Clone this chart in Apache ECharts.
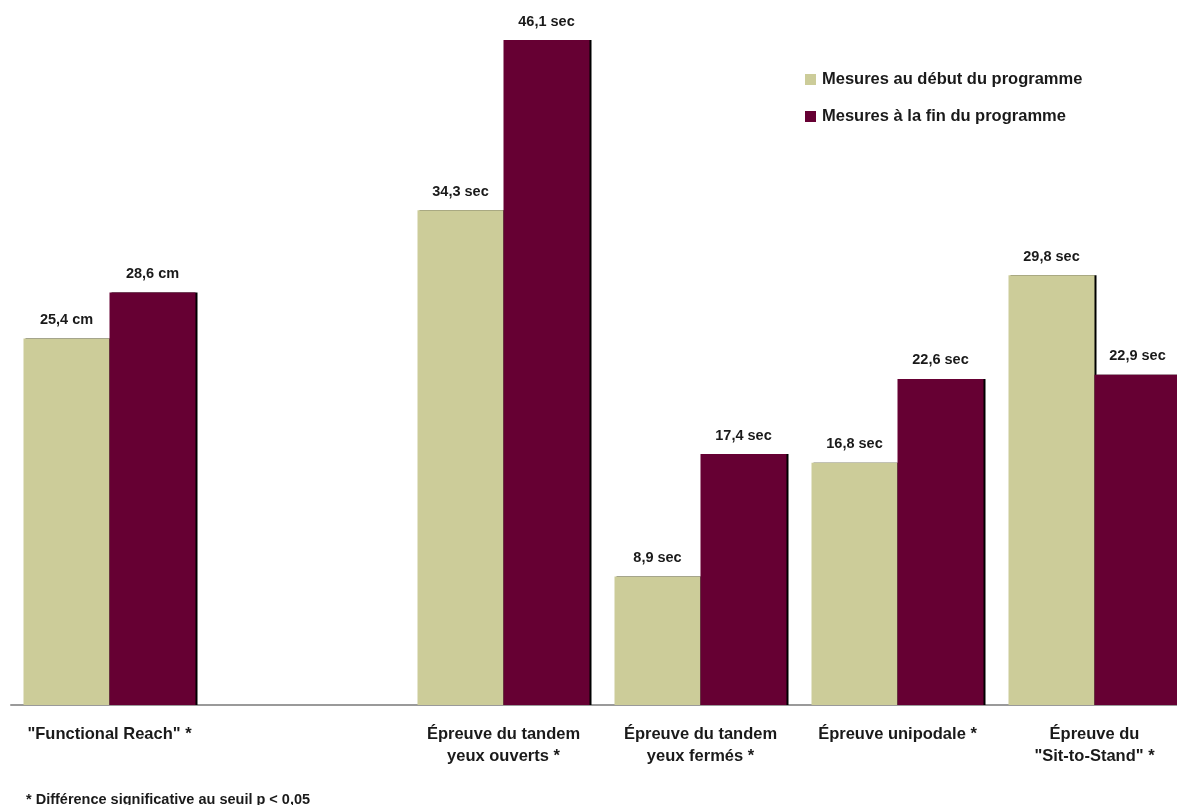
<!DOCTYPE html>
<html>
<head>
<meta charset="utf-8">
<script src="https://cdn.jsdelivr.net/npm/echarts@6/dist/echarts.min.js"></script>
<style>
html,body{margin:0;padding:0;background:#fff;overflow:hidden;}
#chart{width:1200px;height:805px;}
</style>
</head>
<body>
<div id="chart"></div>
<script>
const categories = ['"Functional Reach" *', '', 'Épreuve du tandem\nyeux ouverts *', 'Épreuve du tandem\nyeux fermés *', 'Épreuve unipodale *', 'Épreuve du\n"Sit-to-Stand" *'];
const units = ['cm', '', 'sec', 'sec', 'sec', 'sec'];
const debutValues = [25.4, '-', 34.3, 8.9, 16.8, 29.8];
const finValues = [28.6, '-', 46.1, 17.4, 22.6, 22.9];
const seriesNames = ['Mesures au début du programme', 'Mesures à la fin du programme'];
const footnote = '* Différence significative au seuil p < 0,05';

const FONT = '"Liberation Sans", Arial, sans-serif';
const labelFmt = p => String(p.value).replace('.', ',') + ' ' + units[p.dataIndex];

const chart = echarts.init(document.getElementById('chart'));
chart.setOption({
  backgroundColor: '#fff',
  animation: false,
  title: {
    text: footnote, left: 21, top: 787,
    textStyle: {fontFamily: FONT, fontSize: 14.5, fontWeight: 'bold', color: '#1a1a1a'}
  },
  legend: {
    orient: 'vertical', left: 800, top: 66, itemGap: 20,
    itemWidth: 11, itemHeight: 11, icon: 'rect',
    textStyle: {fontFamily: FONT, fontSize: 16.5, fontWeight: 'bold', color: '#1a1a1a', padding: [0, 0, 0, 1]},
    data: seriesNames
  },
  grid: {left: 11, top: 40, width: 1182, height: 665, containLabel: false},
  xAxis: {
    type: 'category', data: categories,
    axisLine: {lineStyle: {color: '#9a9a9a', width: 2}},
    axisTick: {show: false},
    axisLabel: {interval: 0, margin: 18, lineHeight: 22, fontFamily: FONT, fontSize: 16.5, fontWeight: 'bold', color: '#1a1a1a'}
  },
  yAxis: {type: 'value', min: 0, max: 'dataMax', show: false, splitLine: {show: false}},
  series: [
    {
      name: seriesNames[0], type: 'bar', data: debutValues, barWidth: 86, barGap: '0%',
      itemStyle: {color: '#cccc99', shadowColor: '#000', shadowOffsetX: 2, shadowOffsetY: 0, shadowBlur: 0},
      label: {show: true, position: 'top', distance: 11, formatter: labelFmt, fontFamily: FONT, fontSize: 14.5, fontWeight: 'bold', color: '#1a1a1a'}
    },
    {
      name: seriesNames[1], type: 'bar', data: finValues, barWidth: 86,
      itemStyle: {color: '#660033', shadowColor: '#000', shadowOffsetX: 2, shadowOffsetY: 0, shadowBlur: 0},
      label: {show: true, position: 'top', distance: 11, formatter: labelFmt, fontFamily: FONT, fontSize: 14.5, fontWeight: 'bold', color: '#1a1a1a'}
    }
  ]
});
</script>
</body>
</html>
